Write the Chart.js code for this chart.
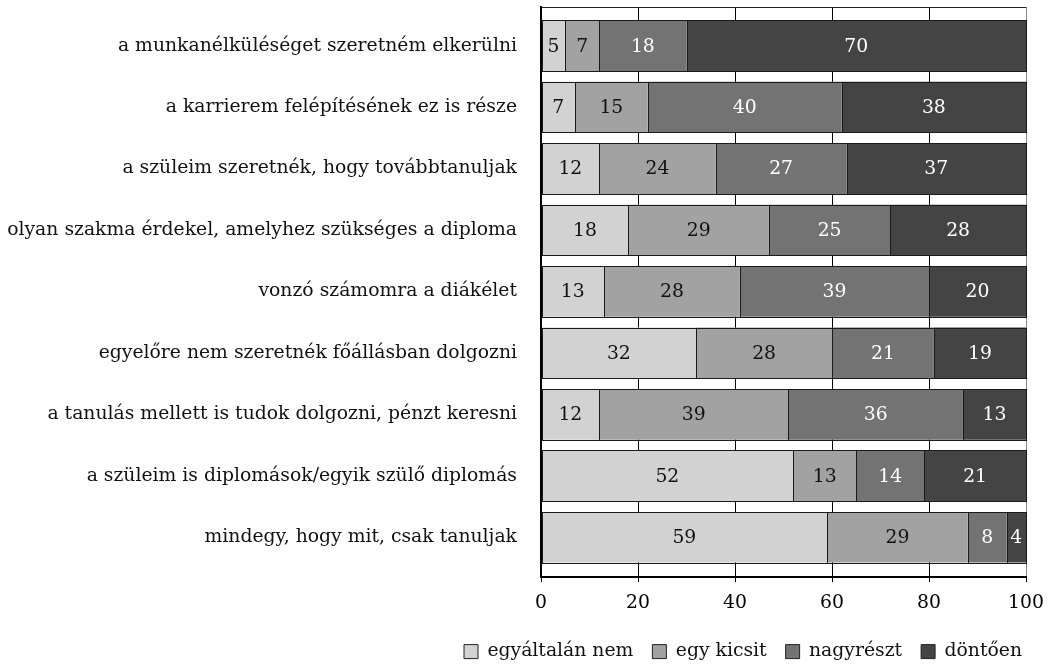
<!DOCTYPE html>
<html>
<head>
<meta charset="utf-8">
<script src="https://cdn.jsdelivr.net/npm/chart.js@4"></script>
<style>
  body { margin: 0; background: #fff; }
</style>
</head>
<body>
<canvas id="grafico" width="1054" height="664"></canvas>
<script>
// állítások (felülről lefelé)
const kategoriak = [
  "a munkanélküléséget szeretném elkerülni",
  "a karrierem felépítésének ez is része",
  "a szüleim szeretnék, hogy továbbtanuljak",
  "olyan szakma érdekel, amelyhez szükséges a diploma",
  "vonzó számomra a diákélet",
  "egyelőre nem szeretnék főállásban dolgozni",
  "a tanulás mellett is tudok dolgozni, pénzt keresni",
  "a szüleim is diplomások/egyik szülő diplomás",
  "mindegy, hogy mit, csak tanuljak"
];

const egyaltalanNem = [5, 7, 12, 18, 13, 32, 12, 52, 59];
const egyKicsit     = [7, 15, 24, 29, 28, 28, 39, 13, 29];
const nagyreszt     = [18, 40, 27, 25, 39, 21, 36, 14, 8];
const dontoen       = [70, 38, 37, 28, 20, 19, 13, 21, 4];

const xTicks = [0, 20, 40, 60, 80, 100];

const BETU = "'DejaVu Serif', serif";
const MERET = 18.8;

// keret a szakaszok köré + számok a közepükre
const feliratok = {
  id: "feliratok",
  afterDatasetsDraw(chart){
    const ctx = chart.ctx;
    ctx.save();
    ctx.strokeStyle = "#1a1a1a";
    ctx.lineWidth = 1;
    chart.data.datasets.forEach((ds, i) => {
      chart.getDatasetMeta(i).data.forEach(bar => {
        const x0 = Math.round(Math.min(bar.x, bar.base)) + 0.5;
        const x1 = Math.round(Math.max(bar.x, bar.base)) + 0.5;
        const y0 = Math.round(bar.y - bar.height / 2) + 0.5;
        const y1 = Math.round(bar.y + bar.height / 2) + 0.5;
        ctx.strokeRect(x0, y0, x1 - x0, y1 - y0);
      });
    });
    ctx.font = MERET + "px " + BETU;
    ctx.textAlign = "center";
    ctx.textBaseline = "middle";
    chart.data.datasets.forEach((ds, i) => {
      chart.getDatasetMeta(i).data.forEach((bar, j) => {
        ctx.fillStyle = i < 2 ? "#111" : "#fff";
        ctx.fillText(ds.data[j], (bar.x + bar.base) / 2, bar.y + 1);
      });
    });
    ctx.restore();
  }
};

// felső keret, jelmagyarázat kicsit jobbra
const keret = {
  id: "keret",
  beforeDraw(chart){
    const lg = chart.legend;
    if(lg && !lg._eltolva){
      lg.left += 15;
      lg.right += 15;
      lg._eltolva = true;
    }
  },
  beforeDatasetsDraw(chart){
    const {ctx, chartArea: a} = chart;
    ctx.save();
    ctx.lineWidth = 1;
    ctx.strokeStyle = "#222";
    ctx.beginPath();
    ctx.moveTo(a.left, Math.round(a.top) + 0.5);
    ctx.lineTo(a.right, Math.round(a.top) + 0.5);
    ctx.stroke();
    ctx.restore();
  }
};

const ds = (label, data, color) => ({
  label, data,
  backgroundColor: color,
  borderWidth: 0,
  categoryPercentage: 0.825,
  barPercentage: 1
});

new Chart(document.getElementById("grafico"), {
  type: "bar",
  data: {
    labels: kategoriak,
    datasets: [
      ds("egyáltalán nem", egyaltalanNem, "#d2d2d2"),
      ds("egy kicsit", egyKicsit, "#a2a2a2"),
      ds("nagyrészt", nagyreszt, "#737373"),
      ds("döntően", dontoen, "#444444")
    ]
  },
  options: {
    indexAxis: "y",
    responsive: false,
    animation: false,
    layout: { padding: { top: 7, right: 28, left: 0, bottom: -7 } },
    font: { family: BETU },
    scales: {
      x: {
        stacked: true,
        min: 0, max: 100,
        afterBuildTicks: s => { s.ticks = xTicks.map(v => ({ value: v })); },
        grid: {
          color: c => (c.tick && c.tick.value === 100) ? "#888" : "#000",
          lineWidth: 1,
          tickColor: "#000",
          tickLength: 5
        },
        border: { display: true, color: "#000", width: 2, z: 1 },
        ticks: { color: "#000", font: { size: MERET, family: BETU }, padding: 10, maxRotation: 0 },
        afterFit: s => { s.height = 46; }
      },
      y: {
        stacked: true,
        afterBuildTicks: s => { s._startValue = -0.63; s._valueRange = 9.28; },
        afterFit: s => { s.width = 541; s.paddingTop = 0; s.paddingBottom = 0; },
        grid: { display: false, drawTicks: false },
        border: { display: true, color: "#000", width: 2, z: 1 },
        ticks: { color: "#111", font: { size: MERET, family: BETU }, padding: 24 }
      }
    },
    plugins: {
      legend: {
        position: "bottom",
        align: "end",
        labels: {
          color: "#111",
          font: { size: MERET, family: BETU },
          boxWidth: 14,
          boxHeight: 14,
          padding: 19,
          generateLabels: chart => chart.data.datasets.map((d, i) => ({
            text: d.label,
            fillStyle: d.backgroundColor,
            strokeStyle: "#222",
            lineWidth: 1,
            fontColor: "#111",
            hidden: false,
            datasetIndex: i
          }))
        }
      },
      tooltip: { enabled: false }
    }
  },
  plugins: [feliratok, keret]
});
</script>
</body>
</html>
